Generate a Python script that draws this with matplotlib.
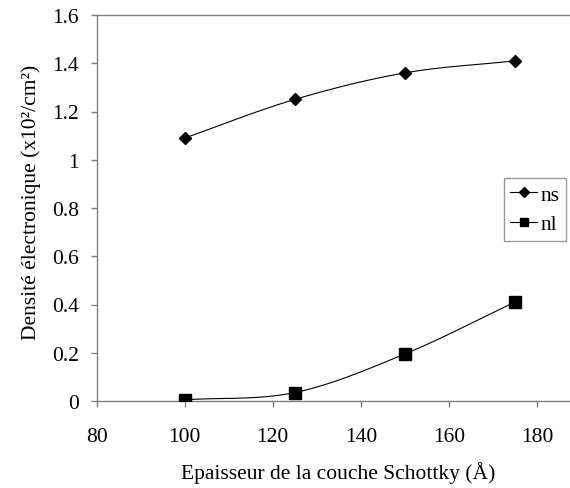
import numpy as np
import matplotlib
matplotlib.use("Agg")
import matplotlib.pyplot as plt

plt.rcParams['font.family'] = ['Liberation Serif', 'DejaVu Serif']

# Schottky layer thickness (Å) and electron densities
thickness = [100, 125, 150, 175]
ns = [1.09, 1.25, 1.36, 1.41]
nl = [0.005, 0.035, 0.195, 0.41]

x_ticks = [80, 100, 120, 140, 160, 180]
y_ticks = [0, 0.2, 0.4, 0.6, 0.8, 1, 1.2, 1.4, 1.6]
y_tick_labels = ["0", "0.2", "0.4", "0.6", "0.8", "1", "1.2", "1.4", "1.6"]


def smooth(xs, ys, n=40):
    """Catmull-Rom curve through the points (spreadsheet-style smoothed line)."""
    p = np.column_stack([xs, ys]).astype(float)
    p = np.vstack([2 * p[0] - p[1], p, 2 * p[-1] - p[-2]])
    out = []
    t = np.linspace(0, 1, n)[:, None]
    for i in range(1, len(p) - 2):
        p0, p1, p2, p3 = p[i - 1], p[i], p[i + 1], p[i + 2]
        seg = 0.5 * ((2 * p1) + (-p0 + p2) * t
                     + (2 * p0 - 5 * p1 + 4 * p2 - p3) * t ** 2
                     + (-p0 + 3 * p1 - 3 * p2 + p3) * t ** 3)
        out.append(seg if i == 1 else seg[1:])
    c = np.vstack(out)
    return c[:, 0], c[:, 1]


fig = plt.figure(figsize=(5.70, 4.89), dpi=100)
ax = fig.add_axes([96.5 / 570, 1 - 402 / 489, 1 - 96.5 / 570, (402 - 16) / 489])

for ys, mk, ms, lab in [(ns, 'D', 6.5, 'ns'), (nl, 's', 8, 'nl')]:
    sx, sy = smooth(thickness, ys)
    ax.plot(sx, sy, color='black', lw=0.8, zorder=2)
    ax.plot(thickness, ys, ls='none', marker=mk, ms=ms, color='black', zorder=3)
    ax.plot([], [], color='black', lw=0.8, marker=mk, ms=ms, label=lab)

ax.set_xlim(80, 80 + (570 - 96.5) / 4.405)
ax.set_ylim(0, 1.6)
ax.set_xticks(x_ticks)
ax.set_yticks(y_ticks)
ax.set_yticklabels(y_tick_labels)

for s in ['left', 'bottom', 'top']:
    ax.spines[s].set_color('#808080')
    ax.spines[s].set_linewidth(1.0)
ax.spines['right'].set_visible(False)
ax.tick_params(direction='out', length=4.5, width=1.0, color='#808080',
               labelsize=15.5)
ax.tick_params(axis='x', pad=14)
ax.tick_params(axis='y', pad=8)

ax.set_xlabel("Epaisseur de la couche Schottky (Å)", fontsize=15.5)
ax.xaxis.set_label_coords(0.511, -0.155)
ax.set_ylabel("Densité électronique (x10²/cm²)", fontsize=15.5)
ax.yaxis.set_label_coords(-0.117, 0.518)

leg = ax.legend(loc='upper left', bbox_to_anchor=(504 / 570, 1 - 179 / 489),
                bbox_transform=fig.transFigure, fontsize=15.5, frameon=True,
                fancybox=False, borderpad=0.3, handlelength=1.25,
                handletextpad=0.15, labelspacing=0.45, borderaxespad=0,
                markerscale=0.75)
leg.get_frame().set_edgecolor('#808080')
leg.get_frame().set_linewidth(1.0)

fig.savefig("out.png", dpi=100)
